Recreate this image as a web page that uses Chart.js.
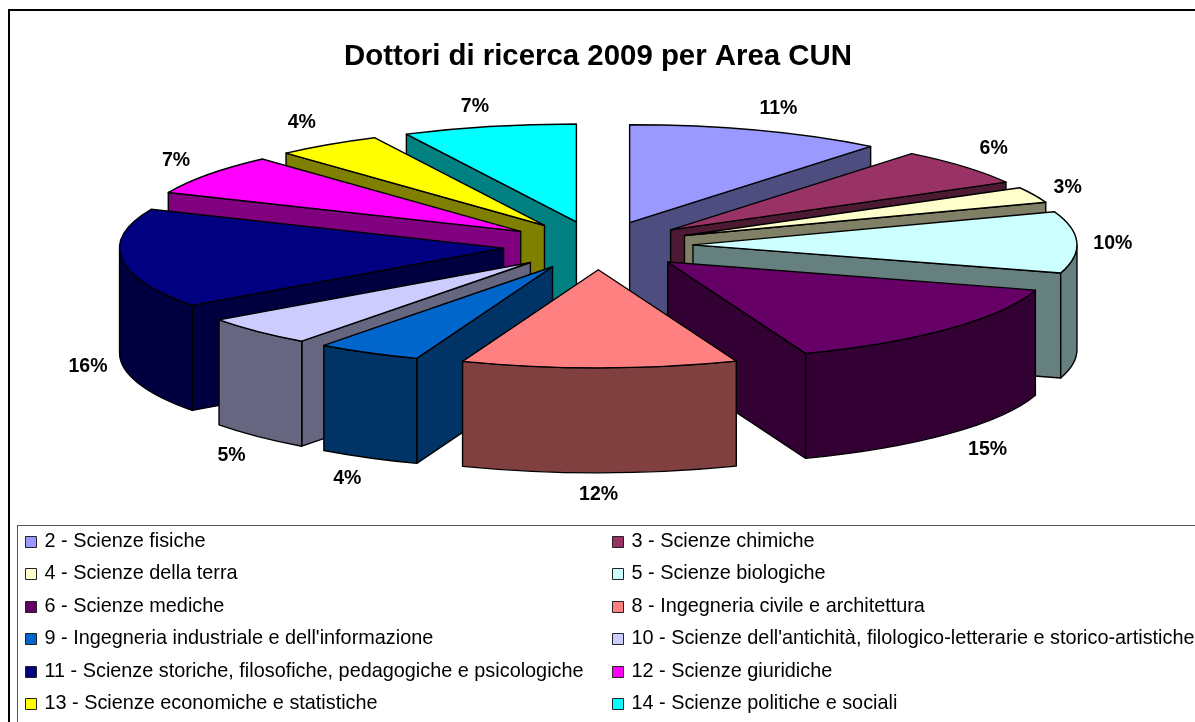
<!DOCTYPE html>
<html><head><meta charset="utf-8">
<style>html,body{margin:0;padding:0;background:#fff}canvas{display:block}</style>
<script src="https://cdn.jsdelivr.net/npm/chart.js@4"></script>
</head><body>
<canvas id="c" width="1195" height="722"></canvas>
<script>
const categories = ["2 - Scienze fisiche","3 - Scienze chimiche","4 - Scienze della terra","5 - Scienze biologiche","6 - Scienze mediche","8 - Ingegneria civile e architettura","9 - Ingegneria industriale e dell'informazione","10 - Scienze dell'antichità, filologico-letterarie e storico-artistiche","11 - Scienze storiche, filosofiche, pedagogiche e psicologiche","12 - Scienze giuridiche","13 - Scienze economiche e statistiche","14 - Scienze politiche e sociali"];
const shares = [10.8,6.1,2.6,10.15,14.5,11.6,4.4,4.9,16.45,6.75,4.45,7.3];
const colors = ["#9999FF","#993366","#FFFFCC","#CCFFFF","#660066","#FF8080","#0066CC","#CCCCFF","#000080","#FF00FF","#FFFF00","#00FFFF"];
const labelNudgeX = [9,2,1,0,12,-1,-4,0,2,-3,-6,-6];
const labelNudgeY = [-2,-5,1,2,2,1,3,5,1,-2,-5,0];
const titleText = "Dottori di ricerca 2009 per Area CUN";

const SQUASH = 0.255, DEPTH = 105, PIE_CY = 245.5, RADIUS = 384, EXPLODE = 95;
const FONT = '"Liberation Sans", Arial, sans-serif';

function darken(hex){
  const n = parseInt(hex.slice(1),16);
  const f = v => Math.round(v/2);
  return `rgb(${f(n>>16&255)},${f(n>>8&255)},${f(n&255)})`;
}
function geom(arc){
  const mid = (arc.startAngle+arc.endAngle)/2;
  return {a1:arc.startAngle,a2:arc.endAngle,mid,r:RADIUS,
    ox:arc.x, oy:PIE_CY+EXPLODE*SQUASH*Math.sin(mid)};
}
function strokeFill(ctx,fill){
  ctx.fillStyle=fill; ctx.fill();
  ctx.strokeStyle="#000"; ctx.lineWidth=1.4; ctx.lineJoin="round"; ctx.stroke();
}
function sideWall(ctx,g,a,fill){
  const x=g.ox+g.r*Math.cos(a), y=g.oy+g.r*SQUASH*Math.sin(a);
  ctx.beginPath();
  ctx.moveTo(g.ox,g.oy); ctx.lineTo(x,y); ctx.lineTo(x,y+DEPTH); ctx.lineTo(g.ox,g.oy+DEPTH); ctx.closePath();
  strokeFill(ctx,fill);
}
let baseX = 0, baseY = 0;
const pie3d = {
  id:"pie3d",
  afterDatasetsUpdate(chart){
    // pull every slice out of the pie along its own middle angle
    const arcs=chart.getDatasetMeta(0).data;
    baseX=arcs[0].x; baseY=arcs[0].y;
    arcs.forEach(arc=>{
      const mid=(arc.startAngle+arc.endAngle)/2;
      arc.x=baseX+EXPLODE*Math.cos(mid);
      arc.y=baseY+EXPLODE*Math.sin(mid);
    });
  },
  beforeDraw(chart){
    const ctx=chart.ctx;
    ctx.save();
    ctx.fillStyle="#fff"; ctx.fillRect(0,0,chart.width,chart.height);
    ctx.strokeStyle="#000"; ctx.lineWidth=2; ctx.strokeRect(9,10,1300,800);
    ctx.strokeStyle="#555"; ctx.lineWidth=1; ctx.strokeRect(17.5,525.5,1300,400);
    ctx.restore();
  },
  beforeDatasetDraw(chart){
    const ctx=chart.ctx, arcs=chart.getDatasetMeta(0).data;
    ctx.save();
    const order=arcs.map((a,i)=>i).sort((p,q)=>Math.sin(geom(arcs[p]).mid)-Math.sin(geom(arcs[q]).mid));
    for(const i of order){
      const g=geom(arcs[i]), fill=darken(colors[i]);
      if(Math.sin(g.a1+Math.PI/2)<-1e-6) sideWall(ctx,g,g.a1,fill);
      if(Math.sin(g.a2+Math.PI/2)>1e-6) sideWall(ctx,g,g.a2,fill);
      const s=Math.max(g.a1,0), e=Math.min(g.a2,Math.PI);
      if(e>s){
        ctx.beginPath();
        ctx.ellipse(g.ox,g.oy,g.r,g.r*SQUASH,0,s,e);
        ctx.ellipse(g.ox,g.oy+DEPTH,g.r,g.r*SQUASH,0,e,s,true);
        ctx.closePath();
        strokeFill(ctx,fill);
      }
    }
    ctx.restore();
    ctx.save();
    ctx.setTransform(1,0,0,SQUASH,0,PIE_CY-SQUASH*baseY);
  },
  afterDatasetDraw(chart){
    const ctx=chart.ctx, arcs=chart.getDatasetMeta(0).data;
    ctx.restore();
    ctx.save();
    arcs.forEach((arc,i)=>{
      const g=geom(arc);
      ctx.beginPath();
      ctx.moveTo(g.ox,g.oy);
      ctx.ellipse(g.ox,g.oy,g.r,g.r*SQUASH,0,g.a1,g.a2);
      ctx.closePath();
      ctx.strokeStyle="#000"; ctx.lineWidth=1.4; ctx.lineJoin="round"; ctx.stroke();
      // value label
      const sn=Math.cos(g.mid), cs=-Math.sin(g.mid);
      const lx=baseX+515*sn+labelNudgeX[i];
      const ly=PIE_CY-143*cs+(cs<-0.01?DEPTH:0)+labelNudgeY[i];
      ctx.fillStyle="#000"; ctx.font=`bold 19.5px ${FONT}`;
      ctx.textAlign="center"; ctx.textBaseline="middle";
      ctx.fillText(Math.round(shares[i])+"%",lx,ly);
    });
    // legend: two columns, row-first
    ctx.font=`19.85px ${FONT}`; ctx.textAlign="left"; ctx.textBaseline="middle";
    categories.forEach((name,i)=>{
      const col=i%2, row=Math.floor(i/2);
      const bx=col?612:25, ty=541.5+row*32.4;
      const by=Math.round(ty-5.5)+.5;
      ctx.fillStyle=colors[i]; ctx.fillRect(bx+.5,by,11,11);
      ctx.strokeStyle="#222"; ctx.lineWidth=1; ctx.strokeRect(bx+.5,by,11,11);
      ctx.fillStyle="#000"; ctx.fillText(name,bx+19.5,ty);
    });
    ctx.restore();
  }
};
new Chart(document.getElementById("c"),{
  type:"pie",
  data:{labels:categories,datasets:[{data:shares,backgroundColor:colors,borderWidth:0,offset:0,clip:false,hoverOffset:0}]},
  options:{
    responsive:false,animation:false,radius:RADIUS,
    layout:{padding:{left:1}},
    events:[],
    plugins:{
      legend:{display:false},tooltip:{enabled:false},
      title:{display:true,text:titleText,color:"#000",font:{family:FONT,size:29.4,weight:"bold",lineHeight:1.2},padding:{top:39,bottom:10}}
    }
  },
  plugins:[pie3d]
});
</script>
</body></html>
